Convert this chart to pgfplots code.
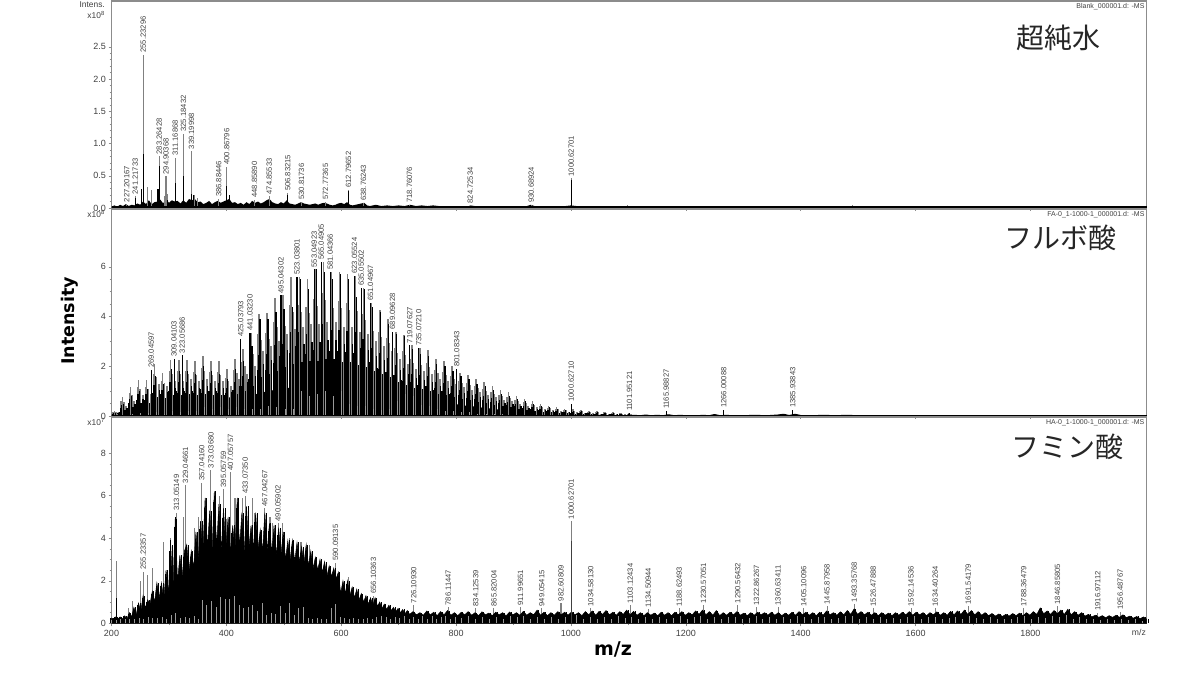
\documentclass[border=0pt]{standalone}
\usepackage{fontspec}
\usepackage{pgfplots}
\usepackage{pgfplotstable}
\pgfplotsset{compat=1.18}
\setmainfont{Liberation Sans}
\newfontfamily\cjk{Noto Sans CJK JP}
\newfontfamily\bigbold{DejaVu Sans}
\definecolor{fr}{gray}{0.55}
\definecolor{spk}{gray}{0.5}
\definecolor{stp}{gray}{0.6}
\definecolor{txt}{gray}{0.25}
\pgfplotsset{
 ms/.style={
  scale only axis, width=1035pt, xmin=200, xmax=2002, ymin=0,
  clip=false, axis line style={fr,line width=1.2pt},
  tick style={fr,line width=.5pt}, major tick length=3pt, minor tick length=1.8pt,
  tick align=outside, xtick pos=bottom, ytick pos=left,
  xtick={200,400,...,1800}, minor x tick num=1,
  scaled y ticks=false,
  tick label style={font=\fontsize{9}{10}\selectfont, text=txt},
  /pgf/number format/assume math mode=true,
  /pgf/number format/1000 sep={},
  yticklabel style={xshift=1pt},
 },
 lab/.style={ycomb, spk, line width=1.1pt, nodes near coords, point meta=explicit symbolic,
  every node near coord/.append style={rotate=90, anchor=west, inner sep=1.5pt,
   text=txt, font=\fontsize{7.6}{8}\selectfont}},
}
% main clusters of the middle panel: mz, top (grey), black, side peak at +7, pale base stripe
\pgfplotstableread[row sep=\\]{x g b s w\\
205 .2 .12 .1 0\\219 .75 .5 .4 .05\\233 1.15 .8 .6 .1\\247 1.45 1.0 .85 .12\\261 1.45 1.1 .9 .12\\275 2.1 1.6 1.3 .18\\289 1.75 1.3 1.2 .1\\303 2.25 1.9 1.4 .2\\317 2.25 1.8 1.4 .15\\331 2.25 1.8 1.5 .2\\345 2.2 1.7 1.4 .2\\359 2.4 2.0 1.5 .35\\373 2.2 1.8 1.4 .3\\387 2.2 1.7 1.4 .35\\401 1.9 1.5 1.2 .3\\415 2.3 1.9 1.5 .35\\429 2.7 2.2 1.7 .3\\443 3.35 2.8 2.0 .3\\457 4.1 3.9 2.6 .3\\471 4.15 3.9 2.8 .4\\485 4.75 4.2 3.0 .35\\499 4.85 4.3 3.3 .3\\513 5.6 4.4 3.5 .3\\527 5.6 5.5 3.6 1.0\\541 5.5 5.1 3.7 .8\\555 5.9 5.9 3.7 .9\\569 6.2 5.8 3.8 1.0\\583 5.8 5.5 3.8 .8\\597 5.8 5.7 3.6 1.0\\611 5.7 5.5 3.6 .5\\625 5.65 4.8 3.4 .4\\639 5.15 5.1 3.3 .4\\653 4.55 4.4 3.0 .3\\667 4.25 4.2 2.8 .25\\681 3.9 3.7 2.6 .3\\695 3.4 3.3 2.3 .6\\709 3.25 3.2 2.1 .9\\723 2.85 2.7 1.9 .8\\737 2.75 2.5 1.8 .45\\751 2.65 2.4 1.7 .4\\765 2.3 2.1 1.5 .3\\779 2.2 2.0 1.4 .2\\793 2.0 1.8 1.3 .2\\807 1.75 1.6 1.15 .15\\821 1.65 1.5 1.05 .15\\835 1.5 1.3 .95 .1\\849 1.35 1.2 .85 .1\\863 1.2 1.05 .75 .08\\877 1.05 .9 .65 .08\\891 .95 .8 .6 .06\\905 .8 .7 .5 .05\\919 .7 .6 .42 .05\\933 .6 .5 .36 .04\\947 .5 .42 .3 .03\\961 .42 .35 .25 .03\\975 .36 .3 .2 .02\\989 .3 .26 .18 0\\1003 .27 .22 .15 0\\1017 .25 .2 .13 0\\1031 .22 .18 .12 0\\1045 .2 .16 .1 0\\1059 .18 .14 .09 0\\1073 .15 .12 .08 0\\1087 .13 .1 .07 0\\1101 .12 .09 .06 0\\
}\fatab
% black mass of the bottom panel
\pgfplotstableread[row sep=\\]{x y\\
200 .25\\204 .2\\207 .3\\211 .2\\215 .3\\219 .2\\223 .35\\227 .2\\231 .5\\235 .3\\239 .75\\243 .4\\247 .95\\251 .55\\255 1.3\\259 .7\\263 1.1\\267 .9\\271 1.5\\275 1.0\\279 1.9\\283 1.2\\287 1.9\\291 1.1\\295 2.5\\299 1.4\\303 3.7\\307 1.6\\311 4.9\\315 1.9\\319 3.2\\323 2.2\\327 3.4\\331 3.7\\335 2.5\\339 3.4\\343 2.6\\347 4.3\\351 3.0\\355 4.8\\359 3.3\\363 5.9\\367 3.5\\371 5.3\\375 3.3\\379 6.2\\383 3.6\\387 5.6\\391 3.4\\395 5.4\\399 3.5\\403 5.0\\407 3.3\\411 4.6\\415 3.4\\419 5.9\\423 3.6\\427 5.2\\431 3.3\\435 5.5\\439 3.5\\443 4.6\\447 3.5\\451 5.2\\455 3.5\\459 4.4\\463 3.4\\467 5.2\\471 3.4\\475 4.7\\479 3.3\\483 4.6\\487 3.2\\491 4.5\\495 3.2\\499 4.3\\503 3.0\\507 3.9\\511 3.0\\515 3.9\\519 2.9\\523 3.8\\527 2.9\\531 3.6\\535 2.8\\539 3.7\\543 2.7\\547 3.4\\551 2.6\\555 3.1\\559 2.5\\563 3.0\\567 2.4\\571 2.9\\575 2.2\\579 2.7\\583 2.2\\587 2.6\\591 2.1\\595 2.4\\599 1.4\\603 2.0\\607 1.4\\611 2.0\\615 1.3\\619 1.7\\623 1.2\\627 1.6\\631 1.1\\635 1.4\\639 1.0\\643 1.3\\647 .9\\651 1.2\\655 .85\\659 1.2\\663 .8\\667 1.0\\671 .7\\675 .9\\679 .65\\683 .85\\687 .6\\691 .75\\695 .55\\699 .7\\703 .5\\707 .65\\711 .45\\715 .6\\719 .42\\
725 .55\\731 .4\\737 .5\\743 .38\\749 .58\\755 .4\\761 .52\\767 .36\\773 .55\\779 .4\\785 .6\\791 .38\\797 .5\\803 .36\\809 .52\\815 .4\\821 .55\\827 .38\\833 .5\\839 .36\\845 .54\\851 .4\\857 .48\\863 .36\\869 .52\\875 .4\\881 .5\\887 .35\\893 .53\\899 .4\\905 .5\\911 .38\\917 .56\\923 .38\\929 .5\\935 .4\\941 .62\\947 .38\\953 .52\\959 .36\\965 .5\\971 .38\\977 .55\\983 .4\\989 .52\\995 .38\\1001 .54\\1007 .4\\1013 .5\\1019 .36\\1025 .55\\1031 .4\\1037 .58\\1043 .38\\1049 .56\\1055 .42\\1061 .6\\1067 .4\\1073 .52\\1079 .38\\1085 .55\\1091 .42\\1097 .62\\1103 .4\\1109 .56\\1115 .38\\1121 .5\\1127 .36\\1133 .5\\1139 .38\\1145 .48\\1151 .36\\1157 .52\\1163 .38\\1169 .5\\1175 .36\\1181 .52\\1187 .4\\1193 .55\\1199 .38\\1205 .5\\1211 .4\\1217 .58\\1223 .42\\1229 .62\\1235 .4\\1241 .55\\1247 .38\\1253 .6\\1259 .36\\1265 .5\\1271 .38\\1277 .52\\1283 .4\\1289 .55\\1295 .38\\1301 .48\\1307 .36\\1313 .5\\1319 .38\\1325 .52\\1331 .4\\1337 .5\\1343 .38\\1349 .52\\1355 .38\\1361 .5\\1367 .36\\1373 .48\\1379 .38\\1385 .52\\1391 .38\\1397 .55\\1403 .4\\1409 .52\\1415 .38\\1421 .5\\1427 .36\\1433 .52\\1439 .38\\1445 .58\\1451 .4\\1457 .5\\1463 .38\\1469 .54\\1475 .4\\1481 .6\\1487 .42\\1493 .68\\1499 .42\\1505 .55\\1511 .4\\1517 .52\\1523 .38\\1529 .5\\1535 .36\\1541 .5\\1547 .38\\1553 .48\\1559 .36\\1565 .5\\1571 .38\\1577 .52\\1583 .4\\1589 .55\\1595 .38\\1601 .52\\1607 .4\\1613 .5\\1619 .36\\1625 .5\\1631 .4\\1637 .54\\1643 .38\\1649 .5\\1655 .38\\1661 .56\\1667 .4\\1673 .58\\1679 .42\\1685 .62\\1691 .42\\1697 .6\\1703 .4\\1709 .55\\1715 .38\\1721 .5\\1727 .36\\1733 .46\\1739 .34\\1745 .44\\1751 .32\\1757 .42\\1763 .34\\1769 .46\\1775 .36\\1781 .48\\1787 .36\\1793 .5\\1799 .38\\1805 .55\\1811 .42\\1817 .72\\1823 .45\\1829 .58\\1835 .42\\1841 .6\\1847 .45\\1853 .62\\1859 .42\\1865 .66\\1871 .4\\1877 .55\\1883 .38\\1889 .5\\1895 .34\\1901 .42\\1907 .3\\1913 .38\\1919 .28\\1925 .36\\1931 .26\\1937 .36\\1943 .28\\1949 .38\\1955 .28\\1961 .4\\1967 .27\\1973 .34\\1979 .24\\1985 .32\\1991 .22\\1997 .3\\2002 .2\\
}\hatab
\begin{document}
\begin{tikzpicture}
\path[use as bounding box] (0,0) rectangle (1200pt,675pt);

% top panel: blank
\begin{axis}[ms, at={(111.5pt,467pt)}, height=207pt, ymax=3.21,
 ytick={0,0.5,...,2.5}, minor y tick num=4, xticklabels={},
 yticklabel style={/pgf/number format/fixed,/pgf/number format/precision=1,/pgf/number format/fixed zerofill}]
\addplot[fill=black,draw=none] table[row sep=\\]{x y\\
200 .02\\205 .04\\210 .02\\215 .05\\220 .03\\225 .06\\230 .03\\235 .05\\240 .04\\245 .07\\250 .05\\255 .1\\260 .06\\265 .12\\270 .06\\275 .09\\280 .1\\285 .13\\290 .07\\295 .14\\300 .08\\305 .12\\310 .1\\315 .11\\320 .07\\325 .12\\330 .08\\335 .14\\340 .12\\345 .14\\350 .09\\355 .1\\360 .06\\365 .08\\370 .11\\375 .06\\380 .09\\385 .11\\390 .08\\395 .1\\400 .12\\405 .14\\410 .08\\415 .09\\420 .06\\425 .08\\430 .05\\435 .09\\440 .06\\445 .11\\450 .08\\455 .1\\460 .07\\465 .09\\470 .12\\475 .14\\480 .09\\485 .07\\490 .06\\495 .09\\500 .07\\505 .12\\510 .07\\515 .06\\520 .05\\525 .07\\530 .09\\535 .07\\540 .06\\545 .05\\550 .06\\555 .07\\560 .05\\565 .07\\570 .08\\575 .07\\580 .05\\585 .04\\590 .05\\595 .07\\600 .08\\605 .06\\610 .09\\615 .05\\620 .04\\625 .05\\630 .06\\635 .07\\640 .08\\645 .04\\650 .03\\660 .05\\670 .03\\680 .04\\690 .03\\700 .04\\710 .03\\720 .05\\730 .03\\740 .04\\750 .03\\760 .04\\770 .03\\780 .03\\790 .02\\800 .03\\820 .02\\825 .04\\840 .02\\860 .03\\880 .02\\900 .03\\920 .02\\930 .05\\940 .02\\960 .03\\980 .02\\1000 .04\\1020 .02\\1040 .03\\1060 .02\\1080 .03\\1100 .03\\1120 .02\\1140 .02\\1160 .03\\1180 .02\\1200 .02\\1240 .03\\1280 .02\\1320 .02\\1360 .03\\1400 .02\\1440 .03\\1480 .02\\1500 .03\\1540 .02\\1580 .03\\1620 .02\\1660 .03\\1700 .02\\1740 .03\\1780 .02\\1820 .03\\1860 .02\\1900 .02\\1940 .03\\1980 .02\\2002 .02\\
} \closedcycle;
\addplot[ycomb,spk,line width=1pt] table[row sep=\\]{x y\\
262 .33\\270 .28\\293 .18\\297 .22\\345 .2\\350 .16\\1040 .03\\1098 .05\\1490 .04\\
};
\addplot[lab] table[row sep=\\,meta=l]{x y l\\
226.5 .06 227.20167\\241.2 .18 241.21733\\255.23 2.38 255.23296\\283.26 .8 283.26428\\294.9 .49 294.90368\\311.17 .78 311.16868\\325.18 1.155 325.18432\\339.2 .88 339.19998\\386.9 .14 386.88446\\400.87 .64 400.86796\\448.86 .13 448.85890\\474.86 .18 474.85533\\506.83 .235 506.83215\\530.82 .1 530.81736\\572.77 .1 572.77365\\612.8 .285 612.79652\\638.76 .08 638.76243\\718.76 .05 718.76076\\824.73 .04 824.72534\\930.69 .05 930.68924\\1000.63 .46 1000.62701\\
};
\addplot[ycomb,black,line width=1.1pt] table[row sep=\\]{x y\\
241.2 .16\\252 .3\\255.4 .83\\281 .3\\283.4 .65\\297 .12\\311.4 .38\\325.4 .5\\339.5 .22\\342 .2\\400.9 .34\\405 .2\\506.9 .2\\612.9 .26\\1000.63 .44\\
};
\addplot[black,line width=2.4pt] coordinates {(200,.01) (2002,.01)};
\node[anchor=east,inner sep=0,font=\fontsize{7}{8}\selectfont,text=txt] at (rel axis cs:.9982,.972) {Blank\_000001.d: -MS};
\end{axis}

% middle panel: fulvic acid
\begin{axis}[ms, at={(111.5pt,259pt)}, height=207pt, ymax=8.33,
 ytick={0,2,4,6}, minor y tick num=3, xticklabels={}]
\addplot[fill=black,draw=none] table[row sep=\\]{x y\\
200 .05\\205 .08\\219 .2\\233 .25\\247 .3\\261 .35\\275 .45\\289 .5\\303 .5\\317 .55\\331 .6\\345 .65\\359 .7\\373 .7\\387 .75\\401 .75\\415 .75\\429 .8\\443 .85\\457 .9\\471 1.0\\485 1.05\\499 1.1\\513 1.15\\527 1.2\\541 1.2\\555 1.2\\569 1.25\\583 1.3\\597 1.3\\611 1.25\\625 1.2\\639 1.15\\653 1.1\\667 1.0\\681 1.0\\695 .95\\709 .9\\723 .75\\737 .7\\751 .65\\765 .6\\779 .55\\793 .5\\807 .45\\821 .4\\835 .38\\849 .32\\863 .3\\877 .25\\891 .2\\905 .18\\919 .15\\933 .12\\947 .1\\961 .09\\975 .08\\989 .07\\1003 .06\\1017 .06\\1031 .05\\1045 .05\\1059 .04\\1073 .04\\1087 .03\\1101 .03\\1110 .05\\1120 .03\\1130 .06\\1140 .03\\1150 .05\\1160 .03\\1170 .07\\1180 .03\\1190 .05\\1200 .03\\1210 .04\\1220 .03\\1230 .05\\1240 .03\\1250 .08\\1260 .03\\1270 .05\\1280 .03\\1290 .04\\1300 .03\\1320 .05\\1340 .03\\1360 .06\\1370 .09\\1380 .04\\1390 .09\\1400 .04\\1420 .03\\1440 .05\\1460 .03\\1480 .05\\1500 .03\\1540 .04\\1580 .03\\1620 .04\\1660 .03\\1700 .04\\1740 .03\\1780 .04\\1820 .03\\1860 .03\\1900 .03\\1940 .03\\1980 .03\\2002 .03\\
} \closedcycle;
\addplot[ycomb,spk,line width=1.6pt] table[x=x,y=g]{\fatab};
\addplot[ycomb,spk,line width=1.6pt] table[x expr=\thisrow{x}-2,y expr=\thisrow{g}*.8]{\fatab};
\addplot[ycomb,spk,line width=1.6pt] table[x expr=\thisrow{x}+3,y expr=\thisrow{g}*.75]{\fatab};
\addplot[ycomb,spk,line width=2pt] table[x expr=\thisrow{x}+7,y=s]{\fatab};
\addplot[ycomb,black,line width=1.2pt] table[x expr=\thisrow{x}+1.5,y=b]{\fatab};
\addplot[ycomb,black,line width=1.2pt] table[x expr=\thisrow{x}-1,y expr=\thisrow{g}*.6]{\fatab};
\addplot[ycomb,black,line width=1.2pt] table[x expr=\thisrow{x}+8,y expr=\thisrow{s}*.8]{\fatab};
\addplot[ycomb,black,line width=1.2pt] table[x expr=\thisrow{x}+4.5,y expr=\thisrow{s}*.6]{\fatab};
\addplot[ycomb,black,line width=1.2pt] table[x expr=\thisrow{x}+11,y expr=\thisrow{g}*.42]{\fatab};
\addplot[ycomb,black,line width=1.2pt] table[x expr=\thisrow{x}-3.5,y expr=\thisrow{g}*.45]{\fatab};
\addplot[lab,black,line width=1.2pt] table[row sep=\\,meta=l]{x y l\\
269.05 1.85 269.04597\\309.04 2.3 309.04103\\323.06 2.45 323.05686\\425.04 3.1 425.03793\\441.03 3.35 441.03230\\495.04 4.85 495.04302\\523.04 5.6 523.03801\\553.05 5.9 553.04923\\565.05 6.2 565.04905\\581.04 5.8 581.04366\\623.06 5.65 623.05524\\635.06 5.15 635.05502\\651.05 4.55 651.04967\\689.1 3.4 689.09628\\719.08 2.85 719.07627\\735.07 2.75 735.07210\\801.08 1.89 801.08343\\1000.63 .5 1000.62710\\1101.95 .12 1101.95121\\1165.99 .2 1165.98827\\1266 .25 1266.00088\\1385.94 .25 1385.93843\\
};
\addplot[ycomb,stp,line width=.9pt] table[x expr=\thisrow{x}+3,y=w]{\fatab};
\addplot[black,line width=1.5pt] coordinates {(200,0) (2002,0)};
\node[anchor=east,inner sep=0,font=\fontsize{7}{8}\selectfont,text=txt] at (rel axis cs:.9982,.972) {FA-0\_1-1000-1\_000001.d: -MS};
\end{axis}

% bottom panel: humic acid
\begin{axis}[ms, at={(111.5pt,51.7pt)}, height=206.3pt, ymax=9.7,
 ytick={0,2,4,6,8}, minor y tick num=3]
\addplot[ycomb,spk,line width=1.1pt] table[row sep=\\]{x y\\
208 2.95\\229 .7\\236 1.05\\250 2.0\\262 2.25\\272 2.6\\290 3.8\\303 4.0\\325 5.0\\345 4.5\\352 5.0\\364 5.9\\381 5.8\\388 6.0\\401 4.9\\415 5.9\\428 5.9\\445 5.9\\449 5.2\\476 5.0\\481 4.7\\497 4.7\\510 4.0\\530 3.8\\545 3.7\\590 2.5\\612 2.2\\
};
\addplot[lab] table[row sep=\\,meta=l]{x y l\\
255.23 2.43 255.23357\\313.05 5.2 313.05149\\329.05 6.5 329.04661\\357.04 6.6 357.04160\\373.04 7.2 373.03680\\395.06 6.3 395.05759\\407.06 7.1 407.05757\\433.07 6.0 433.07350\\467.04 5.4 467.04267\\490.06 4.7 490.05902\\590.09 2.85 590.09135\\656.1 1.3 656.10363\\726.11 .85 726.10930\\786.11 .75 786.11447\\834.13 .7 834.12539\\865.82 .7 865.82004\\912 .75 911.99651\\949.05 .7 949.05415\\982.61 .95 982.60809\\1000.63 4.8 1000.62701\\1034.58 .7 1034.58130\\1103.12 .85 1103.12434\\1134.51 .65 1134.50944\\1188.62 .7 1188.62493\\1230.57 .85 1230.57051\\1290.56 .85 1290.56432\\1322.86 .75 1322.86267\\1360.63 .75 1360.63411\\1405.1 .7 1405.10096\\1445.88 .8 1445.87958\\1493.36 .9 1493.35768\\1526.48 .7 1526.47888\\1592.15 .7 1592.14536\\1634.4 .7 1634.40264\\1691.54 .8 1691.54179\\1788.36 .7 1788.36479\\1846.86 .8 1846.85805\\1916.97 .5 1916.97112\\1956.49 .55 1956.48767\\
};
\addplot[fill=black,draw=black,line width=.5pt] table[x=x,y=y]{\hatab} \closedcycle;
\addplot[ycomb,black,line width=.8pt] table[x expr=\thisrow{x}+2.5,y=y]{\hatab};
\addplot[ycomb,black,line width=.7pt] table[x expr=\thisrow{x}-1.5,y expr=\thisrow{y}*.92]{\hatab};
\addplot[ycomb,black,line width=.9pt] table[row sep=\\]{x y\\
208 1.2\\303 3.9\\311 5.0\\
};
\addplot[ycomb,black!75,line width=1.4pt] coordinates {(1000.63,3.85)};
\addplot[ycomb,stp,line width=.8pt] table[row sep=\\]{x y\\
200 .15\\208 .15\\216 .2\\224 .18\\232 .22\\240 .2\\248 .25\\256 .2\\264 .28\\272 .27\\280 .25\\288 .28\\296 .2\\304 .4\\312 .5\\320 .25\\328 .3\\336 .25\\344 .35\\352 .2\\358 1.1\\366 .85\\374 1.05\\382 .75\\390 1.25\\398 1.15\\406 1.15\\414 1.3\\422 .85\\430 .7\\438 .75\\446 .85\\454 .6\\462 .95\\470 .4\\478 .5\\486 .45\\494 .8\\502 .5\\510 .95\\518 .4\\526 .7\\534 .75\\542 .25\\550 .2\\558 .25\\566 .22\\574 .2\\582 .7\\590 .9\\598 .3\\606 .25\\614 .22\\622 .25\\630 .2\\638 .22\\646 .25\\654 .2\\662 .3\\670 .32\\678 .28\\686 .2\\694 .3\\702 .25\\710 .35\\718 .2\\726 .3\\734 .22\\742 .35\\750 .2\\758 .32\\766 .2\\774 .28\\782 .35\\790 .22\\798 .3\\
810 .25\\822 .32\\834 .2\\846 .3\\858 .22\\870 .28\\882 .2\\894 .35\\906 .3\\918 .32\\930 .22\\942 .3\\954 .2\\966 .28\\978 .2\\990 .3\\1010 .38\\1022 .22\\1034 .3\\1046 .2\\1058 .28\\1070 .22\\1082 .32\\1094 .25\\1106 .3\\1118 .2\\1130 .28\\1142 .22\\1154 .3\\1166 .2\\1178 .25\\1190 .32\\1202 .2\\1214 .28\\1226 .35\\1238 .22\\1250 .3\\1262 .2\\1274 .28\\1286 .3\\1298 .22\\1310 .25\\1322 .32\\1334 .2\\1346 .28\\1358 .22\\1370 .3\\1382 .2\\1394 .32\\1406 .3\\1418 .22\\1430 .28\\1442 .3\\1454 .2\\1466 .25\\1478 .32\\1490 .35\\1502 .22\\1514 .28\\1526 .2\\1538 .3\\1550 .22\\1562 .25\\1574 .2\\1586 .3\\1598 .32\\1610 .2\\1622 .28\\1634 .3\\1646 .22\\1658 .25\\1670 .3\\1682 .22\\1694 .32\\1706 .25\\1718 .2\\1730 .28\\1742 .2\\1754 .22\\1766 .18\\1778 .28\\1790 .32\\1802 .22\\1814 .3\\1826 .25\\1838 .35\\1850 .28\\1862 .38\\1874 .22\\1886 .28\\1898 .18\\1910 .2\\1922 .15\\1934 .2\\1946 .15\\1958 .22\\1970 .15\\1982 .18\\1994 .12\\
};
\node[anchor=east,inner sep=0,font=\fontsize{7}{8}\selectfont,text=txt] at (rel axis cs:.9982,.972) {HA-0\_1-1000-1\_000001.d: -MS};
\end{axis}

\def\smtxt{\fontsize{8.4}{9}\selectfont}
\node[anchor=east,inner sep=0,text=txt,font=\smtxt] at (105pt,670pt) {Intens.};
\node[anchor=east,inner sep=0,text=txt,font=\smtxt] at (105pt,660pt) {x10\textsuperscript{8}};
\node[anchor=east,inner sep=0,text=txt,font=\smtxt] at (105pt,461pt) {x10\textsuperscript{8}};
\node[anchor=east,inner sep=0,text=txt,font=\smtxt] at (105pt,253pt) {x10\textsuperscript{7}};
\node[anchor=east,inner sep=0,text=txt,font=\fontsize{8.6}{9}\selectfont] at (1146pt,43pt) {m/z};
\node[inner sep=0,font=\cjk\fontsize{28}{32}\selectfont,text=black!85] at (1058.5pt,637pt) {超純水};
\node[inner sep=0,font=\cjk\fontsize{28}{32}\selectfont,text=black!85] at (1060pt,437pt) {フルボ酸};
\node[inner sep=0,font=\cjk\fontsize{28}{32}\selectfont,text=black!85] at (1067pt,228pt) {フミン酸};
\node[inner sep=0,rotate=90,font=\bigbold\bfseries\fontsize{17.5}{20}\selectfont] at (70pt,354pt) {Intensity};
\node[inner sep=0,font=\bigbold\bfseries\fontsize{19}{21}\selectfont] at (613pt,26pt) {m/z};
\end{tikzpicture}
\end{document}
